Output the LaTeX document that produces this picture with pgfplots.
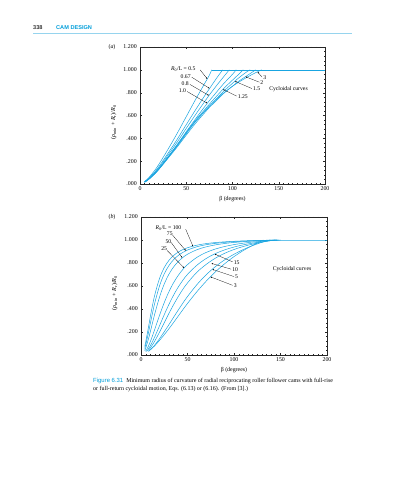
\documentclass[border=0pt]{standalone}
\usepackage{fontspec}
\setmainfont{Liberation Serif}
\newfontfamily\headsans{Liberation Sans}
\usepackage{pgfplots}
\pgfplotsset{compat=1.18}
\usetikzlibrary{arrows.meta}
\definecolor{cyanline}{RGB}{25,165,225}
\definecolor{headcyan}{RGB}{0,158,218}
\definecolor{rulecyan}{RGB}{150,212,238}
\newcommand{\RL}{\textit{R}\textsubscript{0}/L}

\pgfplotsset{
 pageaxis/.style={
   scale only axis, anchor=south west,
   xmin=0,xmax=200,ymin=0,ymax=1.2,
   xtick={0,50,100,150,200}, xticklabels={0,50,100,150,200},
   ytick={0,0.2,0.4,0.6,0.8,1.0,1.2},
   yticklabels={.000,.200,.400,.600,.800,1.000,1.200},
   minor x tick num=9, minor y tick num=4,
   tick align=inside, major tick length=2pt, minor tick length=1.1pt,
   axis line style={line width=0.4pt, black!85},
   tick style={line width=0.3pt, black!85},
   tick label style={font=\fontsize{5.9}{6}\selectfont},
   xticklabel style={yshift=0.5pt},
   yticklabel style={xshift=0.3pt},
   /pgf/number format/assume math mode=true,
   xlabel={β (degrees)},
   xlabel style={font=\fontsize{5.9}{6}\selectfont, at={(axis description cs:0.5,-0.062)}, anchor=north},
   ylabel={(\textit{ρ}\textsubscript{min} + \textit{R}\textsubscript{r})/\textit{R}\textsubscript{0}},
   ylabel style={font=\fontsize{6.1}{6}\selectfont, at={(axis description cs:-0.108,0.45)}, anchor=south},
   every axis plot post/.append style={cyanline, solid, line width=0.5pt, smooth, tension=0.55, mark=none},
 },
}
\tikzset{
 lab/.style={font=\fontsize{5.7}{6}\selectfont, inner sep=0.5pt},
 arr/.style={black, line width=0.25pt, -{Latex[length=1.6pt,width=1.2pt]}},
}

\begin{document}
\begin{tikzpicture}
\useasboundingbox (0,0) rectangle (393pt,480pt);
\fill[white] (0,0) rectangle (393pt,480pt);

% header
\node[anchor=west, inner sep=0pt, font=\headsans\bfseries\fontsize{5.6}{6}\selectfont, text=black!80] at (33pt,452pt) {338};
\node[anchor=west, inner sep=0pt, font=\headsans\bfseries\fontsize{5.6}{6}\selectfont, text=headcyan] at (56pt,452pt) {CAM DESIGN};
\draw[rulecyan, line width=0.6pt] (33pt,447pt) -- (352pt,447pt);

% panel labels
\node[font=\fontsize{5.9}{6}\selectfont] at (112pt,433pt) {(\textit{a})};
\node[font=\fontsize{5.9}{6}\selectfont] at (112pt,263pt) {(\textit{b})};

% ---------------- (a) ----------------
\begin{axis}[pageaxis, at={(140pt,296pt)}, width=185pt, height=137pt]
\addplot coordinates {(5,0.021) (10,0.060) (15,0.11) (20,0.167) (30,0.30) (40,0.441) (50,0.59) (60,0.739) (70,0.882) (75,0.953) (77.5,1.0)};
\addplot coordinates {(5,0.019) (10,0.053) (15,0.097) (20,0.147) (30,0.266) (40,0.389) (50,0.52) (60,0.649) (70,0.774) (75,0.834) (80,0.894) (85,0.952) (89.5,1.0)};
\addplot coordinates {(5,0.018) (10,0.050) (15,0.092) (20,0.137) (30,0.25) (40,0.365) (50,0.487) (60,0.607) (70,0.723) (75,0.78) (80,0.833) (85,0.885) (90,0.935) (96.5,1.0)};
\addplot coordinates {(5,0.017) (10,0.047) (15,0.085) (20,0.129) (30,0.235) (40,0.343) (50,0.458) (60,0.570) (70,0.678) (75,0.73) (80,0.778) (90,0.875) (100,0.961) (104,1.0)};
\addplot coordinates {(5,0.017) (10,0.046) (15,0.084) (20,0.128) (30,0.232) (40,0.337) (50,0.45) (60,0.558) (70,0.652) (75,0.699) (80,0.744) (90,0.832) (100,0.91) (105,0.948) (111.5,1.0)};
\addplot coordinates {(5,0.016) (10,0.045) (15,0.083) (20,0.126) (30,0.228) (40,0.330) (50,0.44) (60,0.547) (70,0.636) (75,0.68) (80,0.723) (90,0.809) (100,0.882) (105,0.918) (110,0.95) (115,0.98) (119,1.0)};
\addplot coordinates {(5,0.016) (10,0.045) (15,0.082) (20,0.124) (30,0.222) (40,0.322) (50,0.428) (60,0.531) (70,0.625) (75,0.67) (80,0.71) (90,0.79) (100,0.857) (105,0.89) (110,0.918) (115,0.945) (120,0.972) (125,1.0)};
\addplot coordinates {(5,0.016) (10,0.0445) (15,0.083) (20,0.128) (30,0.228) (40,0.338) (50,0.448) (60,0.55) (70,0.641) (75,0.683) (80,0.723) (90,0.794) (100,0.856) (110,0.908) (120,0.954) (125,0.975) (131.5,1.0)};
\addplot coordinates {(77.5,1.0) (200,1.0)};

\node[lab, anchor=west] at (axis cs:33,1.006) {\RL{} = 0.5};
\node[lab, anchor=east] at (axis cs:55.5,0.94) {0.67};
\node[lab, anchor=east] at (axis cs:53.5,0.877) {0.8};
\node[lab, anchor=east] at (axis cs:50.5,0.816) {1.0};
\draw[arr] (axis cs:65,1.0) -- (axis cs:72.8,0.92);
\draw[arr] (axis cs:56,0.935) -- (axis cs:75.3,0.837);
\draw[arr] (axis cs:54,0.872) -- (axis cs:74.6,0.775);
\draw[arr] (axis cs:51,0.81) -- (axis cs:72.8,0.707);
\node[lab, anchor=west] at (axis cs:132.5,0.933) {3};
\node[lab, anchor=west] at (axis cs:129.5,0.889) {2};
\node[lab, anchor=west] at (axis cs:121.5,0.833) {1.5};
\node[lab, anchor=west] at (axis cs:105,0.766) {1.25};
\draw[arr] (axis cs:132,0.936) -- (axis cs:127,0.982);
\draw[arr] (axis cs:129,0.892) -- (axis cs:114,0.94);
\draw[arr] (axis cs:121,0.836) -- (axis cs:102.5,0.90);
\draw[arr] (axis cs:104.5,0.77) -- (axis cs:89.6,0.829);
\node[lab, anchor=west] at (axis cs:139,0.83) {Cycloidal curves};
\end{axis}

% ---------------- (b) ----------------
\begin{axis}[pageaxis, at={(141pt,125pt)}, width=186pt, height=138pt]
\addplot coordinates {(4,0.074) (5,0.110) (8,0.2406) (10,0.3315) (12,0.4171) (15,0.5287) (20,0.6678) (25,0.7604) (30,0.8223) (35,0.8648) (40,0.8948) (45,0.9166) (50,0.9328) (60,0.9549) (70,0.9687) (80,0.9779) (90,0.9843) (100,0.9889) (110,0.9923) (120,0.995) (130,0.997) (140,0.9987) (150,1.0)};
\addplot coordinates {(4,0.0568) (5,0.0853) (8,0.193) (10,0.2723) (12,0.3506) (15,0.4585) (20,0.6027) (25,0.7054) (30,0.7774) (35,0.8284) (40,0.8652) (45,0.8924) (50,0.9129) (60,0.9411) (70,0.959) (80,0.9709) (90,0.9793) (100,0.9853) (110,0.9899) (120,0.9934) (130,0.9961) (140,0.9983) (148,1.0)};
\addplot coordinates {(4,0.0387) (5,0.0592) (8,0.1389) (10,0.2016) (12,0.267) (15,0.3635) (20,0.5058) (25,0.6177) (30,0.7021) (35,0.7651) (40,0.8124) (45,0.8484) (50,0.8762) (60,0.9152) (70,0.9404) (80,0.9576) (90,0.9697) (100,0.9785) (110,0.9852) (120,0.9903) (130,0.9943) (140,0.9975) (147,1.0)};
\addplot coordinates {(5,0.0316) (8,0.0771) (10,0.1157) (12,0.1587) (15,0.2284) (20,0.3466) (25,0.4558) (30,0.5499) (35,0.6281) (40,0.692) (45,0.7439) (50,0.7861) (60,0.8487) (70,0.8915) (80,0.9217) (90,0.9436) (100,0.9599) (110,0.9724) (120,0.9821) (130,0.9897) (140,0.9959) (146,1.0)};
\addplot coordinates {(6,0.0307) (8,0.0529) (10,0.0797) (12,0.1106) (15,0.162) (20,0.2559) (25,0.3509) (30,0.4398) (35,0.5199) (40,0.59) (45,0.6498) (50,0.7012) (60,0.7798) (70,0.8387) (80,0.8819) (90,0.9143) (100,0.9389) (110,0.958) (120,0.973) (130,0.985) (140,0.9948) (146,1.0)};
\addplot coordinates {(8,0.0403) (10,0.0607) (12,0.0843) (15,0.1241) (20,0.2) (25,0.2808) (30,0.3609) (35,0.437) (40,0.5075) (45,0.571) (50,0.6267) (60,0.7188) (70,0.7872) (80,0.8421) (90,0.8845) (100,0.9174) (110,0.9435) (120,0.9643) (130,0.9811) (140,0.9949) (144,1.0)};
\addplot coordinates {(8,0.0309) (10,0.0451) (12,0.0616) (15,0.0889) (20,0.1424) (25,0.2016) (30,0.2635) (35,0.3273) (40,0.3903) (45,0.4513) (50,0.5085) (60,0.6108) (70,0.6971) (80,0.7685) (90,0.8276) (100,0.876) (110,0.9172) (120,0.9512) (130,0.9795) (139,1.0)};
\addplot coordinates {(10,0.0445) (12,0.0595) (15,0.0826) (20,0.1276) (25,0.1766) (30,0.2279) (35,0.2823) (40,0.3381) (45,0.3939) (50,0.4482) (60,0.5496) (70,0.6412) (80,0.7228) (90,0.7937) (100,0.8556) (110,0.9082) (120,0.9536) (130,0.993) (131.5,1.0)};
\addplot coordinates {(131.5,1.0) (200,1.0)};

\node[lab, anchor=west] at (axis cs:15,1.107) {\RL{} = 100};
\node[lab] at (axis cs:31,1.054) {75};
\node[lab] at (axis cs:29.5,0.99) {50};
\node[lab] at (axis cs:24.9,0.923) {25};
\draw[arr] (axis cs:48,1.095) -- (axis cs:56,0.943);
\draw[arr] (axis cs:34,1.042) -- (axis cs:48.3,0.906);
\draw[arr] (axis cs:32.5,0.978) -- (axis cs:44.4,0.845);
\draw[arr] (axis cs:28,0.91) -- (axis cs:46.5,0.756);
\node[lab, anchor=west] at (axis cs:99,0.807) {15};
\node[lab, anchor=west] at (axis cs:97.5,0.743) {10};
\node[lab, anchor=west] at (axis cs:100.5,0.679) {5};
\node[lab, anchor=west] at (axis cs:99,0.603) {3};
\draw[arr] (axis cs:98.5,0.81) -- (axis cs:79.2,0.878);
\draw[arr] (axis cs:97,0.746) -- (axis cs:75.7,0.797);
\draw[arr] (axis cs:100,0.682) -- (axis cs:76.7,0.745);
\draw[arr] (axis cs:98.5,0.606) -- (axis cs:74.6,0.68);
\node[lab, anchor=west] at (axis cs:141,0.749) {Cycloidal curves};
\end{axis}

% caption
\node[anchor=north west, inner sep=0pt, align=left, font=\fontsize{5.95}{8}\selectfont] at (93pt,102pt)
 {{\color{headcyan}\headsans Figure 6.31}\enspace Minimum radius of curvature of radial reciprocating roller follower cams with full-rise\\
 or full-return cycloidal motion, Eqs. (6.13) or (6.16). (From [3].)};
\end{tikzpicture}
\end{document}
